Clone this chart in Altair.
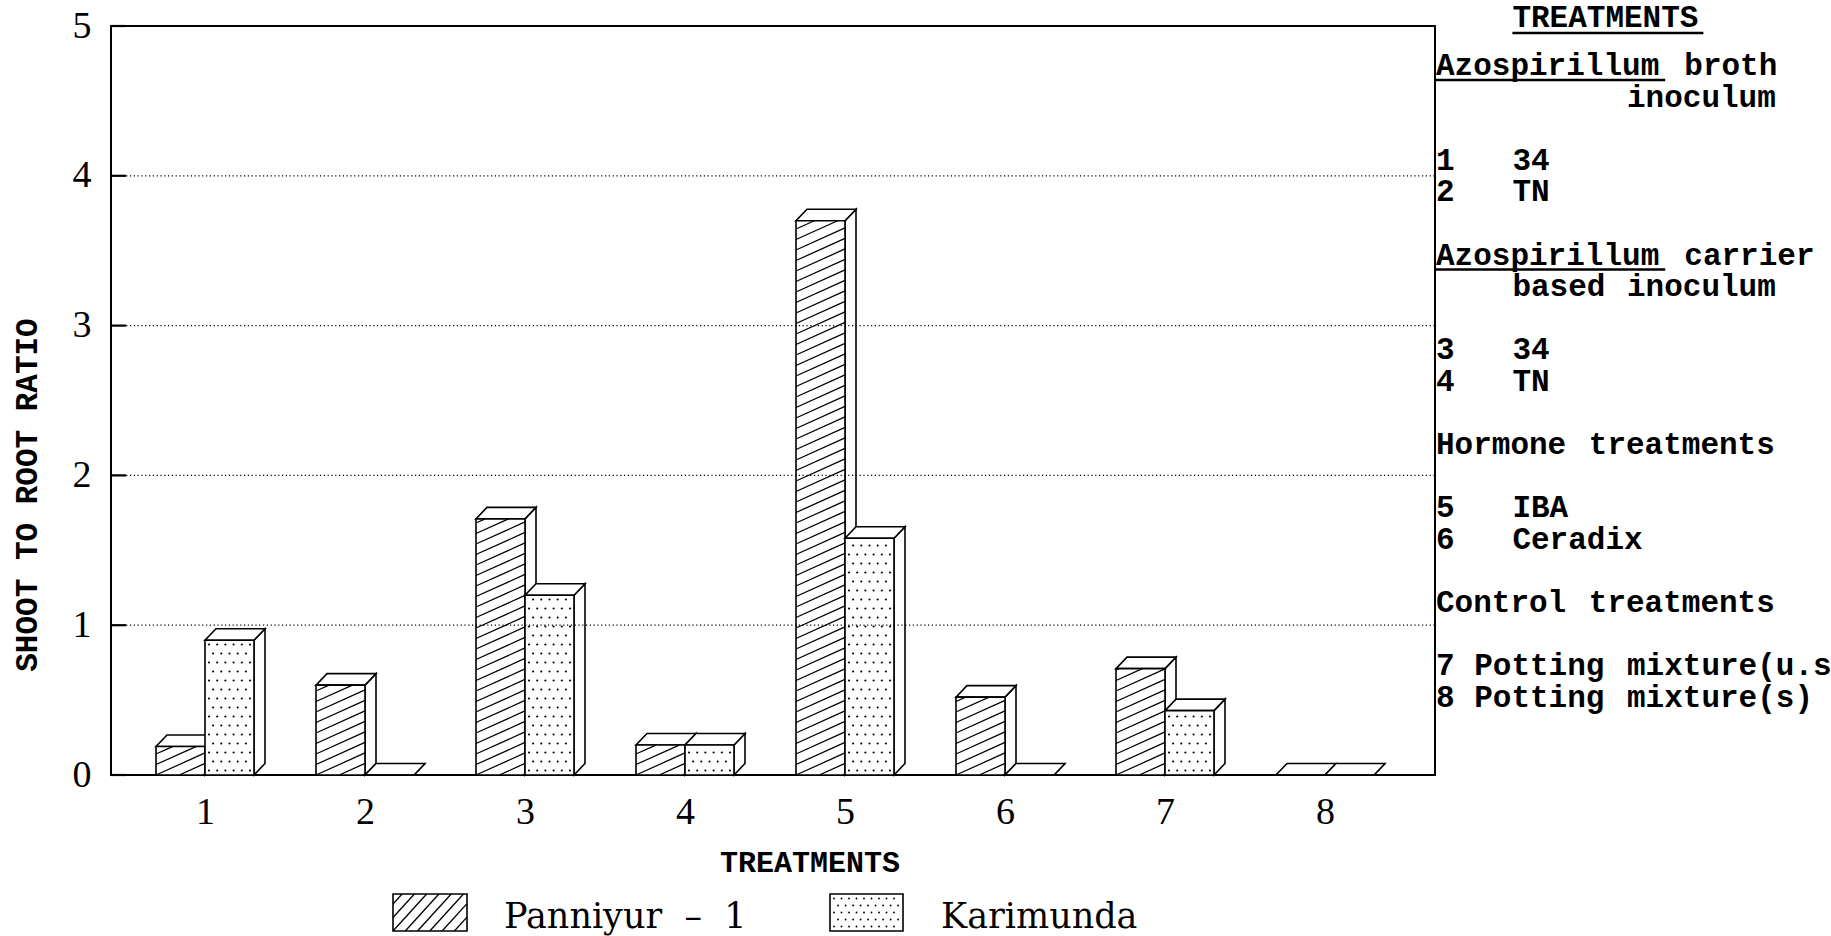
import re

import altair as alt
import numpy as np
import pandas as pd

# ---------------------------------------------------------------- data
treatments = [1, 2, 3, 4, 5, 6, 7, 8]
panniyur = [0.19, 0.60, 1.71, 0.20, 3.70, 0.52, 0.71, 0.00]
karimunda = [0.90, 0.00, 1.20, 0.20, 1.58, 0.00, 0.43, 0.00]
series_labels = ["Panniyur \u2013 1", "Karimunda"]
y_ticks = [0, 1, 2, 3, 4, 5]
y_grid = [1, 2, 3, 4]
x_title = "TREATMENTS"
y_title = "SHOOT TO ROOT RATIO"
key_title = "TREATMENTS"
key_lines = [
    "Azospirillum broth",
    "          inoculum",
    "",
    "1   34",
    "2   TN",
    "",
    "Azospirillum carrier",
    "    based inoculum",
    "",
    "3   34",
    "4   TN",
    "",
    "Hormone treatments",
    "",
    "5   IBA",
    "6   Ceradix",
    "",
    "Control treatments",
    "",
    "7 Potting mixture(u.s)",
    "8 Potting mixture(s)",
]
key_underlined = {0: "Azospirillum", 6: "Azospirillum"}

# ---------------------------------------------------------------- layout
W, H = 1324, 749                 # plot area
LEFT, TOP = 111, 26              # plot origin on the page
PAD = {"left": LEFT, "top": TOP, "right": 1831 - LEFT - W, "bottom": 936 - TOP - H}
STEP = 160.0                     # px per treatment
X_MIN = 1 - 94 / STEP
X_MAX = X_MIN + W / STEP
Y_MAX = 5.0
PX_Y = H / Y_MAX
BAR_W = 49 / STEP
DEPTH_X = 11 / STEP
DEPTH_Y = 11.5 / PX_Y
BASE = TOP + H                   # page y of the zero line

SERIF = "Liberation Serif"
LEGEND_SERIF = "DejaVu Serif"
MONO = "Liberation Mono"
EDGE = dict(stroke="black", strokeWidth=1.6)


def cx(px):
    """page x (px) -> treatment axis value"""
    return X_MIN + (px - LEFT) / STEP


def cy(py):
    """page y (px) -> ratio axis value"""
    return (BASE - py) / PX_Y


def page_x(x):
    return LEFT + (x - X_MIN) * STEP


xs = alt.Scale(domain=[X_MIN, X_MAX], nice=False, zero=False)
ys = alt.Scale(domain=[0, Y_MAX], nice=False, zero=False)
x_axis = alt.Axis(values=treatments, title=None, format="d", labelFont=SERIF,
                  labelFontSize=38, labelColor="black", labelPadding=18,
                  ticks=False, domain=False, grid=False, labelFlush=False,
                  labelOverlap=False)
y_axis = alt.Axis(values=y_ticks, title=None, format="d", labelFont=SERIF,
                  labelFontSize=38, labelColor="black", labelPadding=20,
                  ticks=False, domain=False, grid=False, labelFlush=False,
                  labelOverlap=False, labelBaseline="middle")


def X(f="x"):
    return alt.X(f"{f}:Q", scale=xs, axis=x_axis)


def Y(f="y"):
    return alt.Y(f"{f}:Q", scale=ys, axis=y_axis)


# ---------------------------------------------------------------- fills
def hatch(left, bottom, w, h, slope, gap):
    """diagonal hatch lines clipped to a box given in page px"""
    rows = []
    if w <= 0 or h <= 0:
        return rows
    c = np.floor(-slope * w / gap) * gap
    while c < h:
        t0 = max(0.0, -c / slope)
        t1 = min(w, (h - c) / slope)
        if t1 - t0 > 0.4:
            rows.append({"x": cx(left + t0), "y": cy(bottom - (c + slope * t0)),
                         "x2": cx(left + t1), "y2": cy(bottom - (c + slope * t1))})
        c += gap
    return rows


def dots(left, bottom, w, h, gx=8.2, gy=9.0):
    """staggered dot screen inside a box given in page px"""
    rows = []
    j = 0
    u = 4.5
    while u < h - 2:
        off = 4.0 if j % 2 == 0 else 8.1
        t = off
        while t < w - 2:
            rows.append({"x": cx(left + t), "y": cy(bottom - u)})
            t += gx
        u += gy
        j += 1
    return rows


def bar_frames(values, shift):
    fronts, sides, tops = [], [], []
    for t, v in zip(treatments, values):
        xl = t + shift
        xr = xl + BAR_W
        key = f"{t}"
        fronts.append({"x": xl, "x2": xr, "y": 0.0, "y2": v, "id": key})
        sides += [{"x": xr, "y": v, "y2": 0.0, "id": key},
                  {"x": xr + DEPTH_X, "y": v + DEPTH_Y, "y2": DEPTH_Y, "id": key}]
        tops += [{"y": v, "x": xl, "x2": xr, "id": key},
                 {"y": v + DEPTH_Y, "x": xl + DEPTH_X, "x2": xr + DEPTH_X, "id": key}]
    return pd.DataFrame(fronts), pd.DataFrame(sides), pd.DataFrame(tops)


def bar_layers(values, shift, pattern):
    fronts, sides, tops = bar_frames(values, shift)
    side = alt.Chart(sides).mark_area(fill="white", interpolate="linear", **EDGE).encode(
        x=X(), y=Y(), y2="y2:Q", detail="id:N")
    top = alt.Chart(tops).mark_area(fill="white", orient="horizontal",
                                    interpolate="linear", **EDGE).encode(
        y=Y(), x=X(), x2="x2:Q", detail="id:N")
    front = alt.Chart(fronts).mark_rect(fill="white", **EDGE).encode(
        x=X(), x2="x2:Q", y=Y(), y2="y2:Q")
    fill_rows = []
    for t, v in zip(treatments, values):
        left = page_x(t + shift)
        hgt = v * PX_Y
        if pattern == "hatch":
            fill_rows += hatch(left, BASE, BAR_W * STEP, hgt, 0.45, 10.5)
        else:
            fill_rows += dots(left, BASE, BAR_W * STEP, hgt)
    if pattern == "hatch":
        fill = alt.Chart(pd.DataFrame(fill_rows)).mark_rule(
            color="black", strokeWidth=1.3).encode(x=X(), x2="x2:Q", y=Y(), y2="y2:Q")
    else:
        fill = alt.Chart(pd.DataFrame(fill_rows)).mark_circle(
            color="black", size=4.5, opacity=1).encode(x=X(), y=Y())
    return [side, top, front, fill]


layers = []
layers += bar_layers(panniyur, -BAR_W, "hatch")
layers += bar_layers(karimunda, 0.0, "dots")

# dotted grid and inward ticks on the ratio axis
layers.append(alt.Chart(pd.DataFrame({"y": y_grid})).mark_rule(
    color="black", strokeWidth=1.2, strokeDash=[1.2, 2.6]).encode(
    y=Y(), x=alt.value(0), x2=alt.value(W)))
layers.append(alt.Chart(pd.DataFrame({"y": y_ticks})).mark_rule(
    color="black", strokeWidth=2.2).encode(y=Y(), x=alt.value(0), x2=alt.value(15)))

# axis titles
layers.append(alt.Chart(pd.DataFrame([{"x": cx(810), "y": cy(872), "text": x_title}]))
              .mark_text(font=MONO, fontSize=30, fontWeight="bold", align="center",
                         baseline="alphabetic", color="black")
              .encode(x=X(), y=Y(), text="text:N"))
layers.append(alt.Chart(pd.DataFrame([{"x": cx(28), "y": cy(495), "text": y_title}]))
              .mark_text(font=MONO, fontSize=31, fontWeight="bold", align="center",
                         baseline="middle", angle=270, color="black")
              .encode(x=X(), y=Y(), text="text:N"))

# series key below the plot
box_y0, box_y1 = 894, 931
boxes = [(393, 467, "hatch", 504), (830, 903, "dots", 941)]
box_rows, key_text = [], []
for (bx0, bx1, pat, tx), label in zip(boxes, series_labels):
    box_rows.append({"x": cx(bx0), "x2": cx(bx1), "y": cy(box_y1), "y2": cy(box_y0)})
    key_text.append({"x": cx(tx), "y": cy(928), "text": label.replace(" ", "\u00a0\u00a0")})
layers.append(alt.Chart(pd.DataFrame(box_rows)).mark_rect(fill="white", **EDGE).encode(
    x=X(), x2="x2:Q", y=Y(), y2="y2:Q"))
layers.append(alt.Chart(pd.DataFrame(hatch(393, box_y1, 74, 37, 1.1, 13.5))).mark_rule(
    color="black", strokeWidth=1.3).encode(x=X(), x2="x2:Q", y=Y(), y2="y2:Q"))
layers.append(alt.Chart(pd.DataFrame(dots(830, box_y1, 73, 37, 7.5, 7.0))).mark_circle(
    color="black", size=3.5, opacity=1).encode(x=X(), y=Y()))
layers.append(alt.Chart(pd.DataFrame(key_text)).mark_text(
    font=LEGEND_SERIF, fontSize=35, align="left", baseline="alphabetic", color="black")
    .encode(x=X(), y=Y(), text="text:N"))

# treatment key on the right, laid out on a typewriter grid
CW = 19.1            # column width, px
KX = 1436            # first column
LINE0, LH = 75, 31.6
words, unders = [], []
words.append({"x": cx(KX + 4 * CW), "y": cy(27), "text": key_title})
unders.append({"x": cx(KX + 4 * CW), "x2": cx(KX + (4 + len(key_title)) * CW), "y": cy(33)})
for i, line in enumerate(key_lines):
    base = LINE0 + i * LH
    for m in re.finditer(r"\S+", line):
        words.append({"x": cx(KX + m.start() * CW), "y": cy(base), "text": m.group()})
    if i in key_underlined:
        k = line.index(key_underlined[i])
        unders.append({"x": cx(KX + k * CW),
                       "x2": cx(KX + (k + len(key_underlined[i])) * CW), "y": cy(base + 5)})
layers.append(alt.Chart(pd.DataFrame(words)).mark_text(
    font=MONO, fontSize=31, fontWeight="bold", align="left", baseline="alphabetic",
    color="black").encode(x=X(), y=Y(), text="text:N"))
layers.append(alt.Chart(pd.DataFrame(unders)).mark_rule(color="black", strokeWidth=2.5)
              .encode(x=X(), x2="x2:Q", y=Y()))

chart = (
    alt.layer(*layers)
    .properties(width=W, height=H, padding=PAD, background="white",
                autosize=alt.AutoSizeParams(type="none"))
    .configure_view(stroke="black", strokeWidth=2)
)

chart.save("out.html", embed_options={"renderer": "svg", "actions": False})
